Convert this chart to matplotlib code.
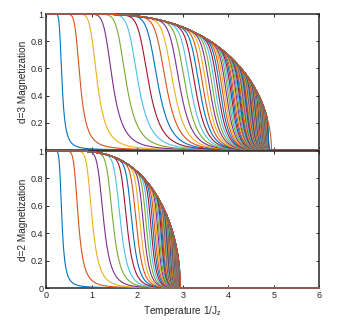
import numpy as np
import matplotlib
matplotlib.use("Agg")
import matplotlib.pyplot as plt

plt.rcParams['font.family'] = ['Liberation Sans', 'DejaVu Sans']
plt.rcParams['mathtext.fontset'] = 'custom'
plt.rcParams['mathtext.rm'] = 'Liberation Sans'

# matlab default colour order
line_colors = ['#0072BD', '#D95319', '#EDB120', '#7E2F8E', '#77AC30', '#4DBEEE', '#A2142F']

# temperature where the envelope falls to zero
tc_d3 = 4.95
tc_d2 = 2.95

# temperature at which each curve is half way down (read / estimated off the plot)
mid_d3 = [0.350, 0.750, 1.125, 1.463, 1.762, 2.026, 2.258, 2.462, 2.643, 2.804,
          2.947, 3.075, 3.191, 3.295, 3.389, 3.474, 3.552, 3.623, 3.688, 3.748,
          3.804, 3.855, 3.903, 3.947, 3.988, 4.027, 4.062, 4.096, 4.128, 4.157,
          4.185, 4.211, 4.236, 4.259, 4.282, 4.303, 4.323, 4.342, 4.360, 4.377,
          4.395, 4.413, 4.431, 4.448, 4.465, 4.481, 4.497, 4.512, 4.527, 4.541,
          4.554, 4.567, 4.579, 4.591, 4.603, 4.615, 4.626, 4.637, 4.648, 4.658,
          4.667, 4.676, 4.685, 4.693, 4.701, 4.709, 4.717, 4.724, 4.731, 4.738,
          4.744, 4.750, 4.756, 4.762, 4.768, 4.774, 4.779, 4.784, 4.789, 4.794,
          4.799, 4.804, 4.809, 4.814, 4.819, 4.824, 4.829, 4.834, 4.839, 4.844,
          4.849, 4.853, 4.857, 4.861, 4.865, 4.869, 4.873, 4.877, 4.881]
mid_d2 = [0.347, 0.708, 1.014, 1.265, 1.471, 1.640, 1.781, 1.898, 1.997, 2.083,
          2.157, 2.221, 2.276, 2.326, 2.369, 2.408, 2.443, 2.475, 2.503, 2.529,
          2.552, 2.574, 2.594, 2.612, 2.629, 2.644, 2.659, 2.672, 2.685, 2.696,
          2.706, 2.715, 2.725, 2.734, 2.744, 2.751, 2.759, 2.766, 2.774, 2.781,
          2.787, 2.793, 2.799, 2.805, 2.811, 2.816, 2.821, 2.826, 2.831, 2.836,
          2.840, 2.844, 2.848, 2.851, 2.855, 2.858, 2.862, 2.865, 2.868, 2.871,
          2.874, 2.877, 2.879, 2.882, 2.885, 2.887, 2.890, 2.892, 2.895, 2.897,
          2.899, 2.901, 2.903, 2.905, 2.906, 2.908, 2.910, 2.912, 2.913, 2.915,
          2.916, 2.918, 2.919, 2.921, 2.922, 2.924, 2.925, 2.927, 2.928, 2.929,
          2.930, 2.931, 2.932, 2.933, 2.934, 2.935, 2.936, 2.937, 2.938]

x_ticks = [0, 1, 2, 3, 4, 5, 6]
y_ticks = [0, 0.2, 0.4, 0.6, 0.8, 1]
y_labels_top = ['', '0.2', '0.4', '0.6', '0.8', '1']
y_labels_bot = ['0', '0.2', '0.4', '0.6', '0.8', '1']

temps = np.linspace(0.01, 6, 1500)


def mean_field(t, tc):
    # solve m = tanh(tc*m/t) by bisection
    lo = np.zeros_like(t)
    hi = np.ones_like(t)
    for _ in range(60):
        m = 0.5 * (lo + hi)
        f = m - np.tanh(tc * m / t)
        lo = np.where(f < 0, m, lo)
        hi = np.where(f >= 0, m, hi)
    res = 0.5 * (lo + hi)
    res[t >= tc] = 0.0
    return res


def draw_panel(ax, tc, mids):
    env = mean_field(temps, tc)
    u = 1 / temps - 1 / tc
    x0 = -np.log(3.0)
    for i, mid in enumerate(mids):
        un = 1 / mid - 1 / tc
        with np.errstate(over='ignore'):
            g = (1 + np.exp(-(12.0 * (u / un - 1) + x0))) ** -0.5
        ax.plot(temps, env * g, color=line_colors[i % 7], lw=0.8,
                clip_on=False, zorder=3)
    ax.plot(temps, env, color=line_colors[len(mids) % 7], lw=0.8,
            clip_on=False, zorder=3)
    ax.set_xlim(0, 6)
    ax.set_ylim(0, 1)
    ax.set_xticks(x_ticks)
    ax.set_yticks(y_ticks)
    ax.tick_params(direction='in', length=2.5, width=0.7, top=True, right=True,
                   labelsize=6.5, colors='#262626', pad=2)
    for s in ax.spines.values():
        s.set_color('#262626')
        s.set_linewidth(1.1)


fig = plt.figure(figsize=(3.52, 3.2), dpi=100)
ax_top = fig.add_axes([0.131, 0.531, 0.776, 0.425])
ax_bot = fig.add_axes([0.131, 0.100, 0.776, 0.428])

draw_panel(ax_top, tc_d3, mid_d3)
draw_panel(ax_bot, tc_d2, mid_d2)

ax_top.set_xticklabels([])
ax_top.set_yticklabels(y_labels_top)
ax_bot.set_yticklabels(y_labels_bot)
ax_bot.set_xticklabels([str(v) for v in x_ticks])

ax_top.set_ylabel('d=3 Magnetization', fontsize=7.2, color='#262626', labelpad=2)
ax_bot.set_ylabel('d=2 Magnetization', fontsize=7.2, color='#262626', labelpad=2)
ax_bot.set_xlabel('Temperature 1/J$_\\mathregular{z}$', fontsize=7.2, color='#262626', labelpad=3)

fig.savefig('out.png', dpi=100)
